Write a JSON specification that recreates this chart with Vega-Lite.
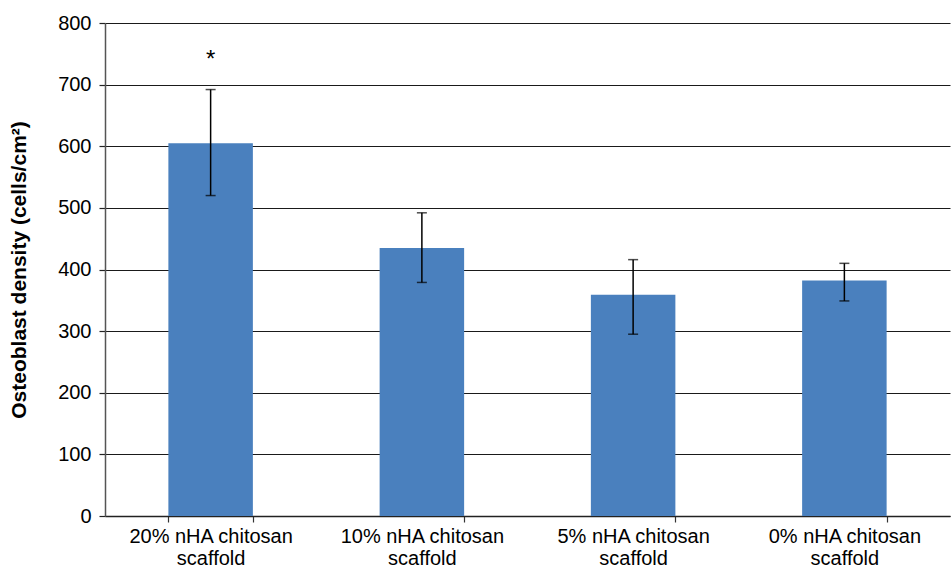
{
 "$schema": "https://vega.github.io/schema/vega-lite/v6.json",
 "width": 845,
 "height": 493,
 "autosize": "none",
 "padding": {"left": 105, "top": 23, "right": 1, "bottom": 55},
 "background": "white",
 "config": {
  "view": {"stroke": null},
  "font": "Liberation Sans",
  "axisY": {
   "titleFontSize": 21, "titleFontWeight": "bold", "titleColor": "#000", "titlePadding": 28,
   "labelFontSize": 20, "labelColor": "#000", "labelPadding": 8,
   "grid": true, "gridColor": "#1a1a1a", "gridWidth": 1.2,
   "tickSize": 6, "tickColor": "#222", "tickWidth": 1.2,
   "domainColor": "#555", "domainWidth": 1.5
  }
 },
 "data": {"values": [
  {"group": "20% nHA chitosan scaffold", "mean": 605, "lower": 520, "upper": 692, "sig": "*"},
  {"group": "10% nHA chitosan scaffold", "mean": 435, "lower": 379, "upper": 492, "sig": ""},
  {"group": "5% nHA chitosan scaffold", "mean": 359, "lower": 295, "upper": 416, "sig": ""},
  {"group": "0% nHA chitosan scaffold", "mean": 382, "lower": 349, "upper": 410, "sig": ""}
 ]},
 "encoding": {
  "x": {
   "field": "group", "type": "nominal", "sort": null,
   "scale": {"paddingInner": 0.6, "paddingOuter": 0.3},
   "axis": {
    "title": null, "labelAngle": 0, "labelFontSize": 20, "labelColor": "#000",
    "labelExpr": "datum.label ? [replace(datum.label, ' scaffold', ''), 'scaffold'] : ''",
    "labelLineHeight": 22, "labelPadding": 4, "labelLimit": 0,
    "tickBand": "extent", "tickSize": 6, "tickColor": "#333", "tickWidth": 1.2,
    "domainColor": "#222", "domainWidth": 1.5
   }
  }
 },
 "layer": [
  {
   "mark": {"type": "bar", "color": "#4a80be"},
   "encoding": {
    "y": {
     "field": "mean", "type": "quantitative",
     "scale": {"domain": [0, 800]},
     "title": "Osteoblast density (cells/cm²)",
     "axis": {"values": [0, 100, 200, 300, 400, 500, 600, 700, 800]}
    }
   }
  },
  {
   "mark": {"type": "errorbar", "ticks": {"size": 10, "color": "#000", "strokeWidth": 1.5}, "color": "#000", "thickness": 1.5},
   "encoding": {
    "y": {"field": "lower", "type": "quantitative", "title": "Osteoblast density (cells/cm²)"},
    "y2": {"field": "upper"}
   }
  },
  {
   "mark": {"type": "text", "dy": -30, "fontSize": 24, "color": "#000"},
   "encoding": {
    "y": {"field": "upper", "type": "quantitative", "title": "Osteoblast density (cells/cm²)"},
    "text": {"field": "sig"}
   }
  }
 ]
}
